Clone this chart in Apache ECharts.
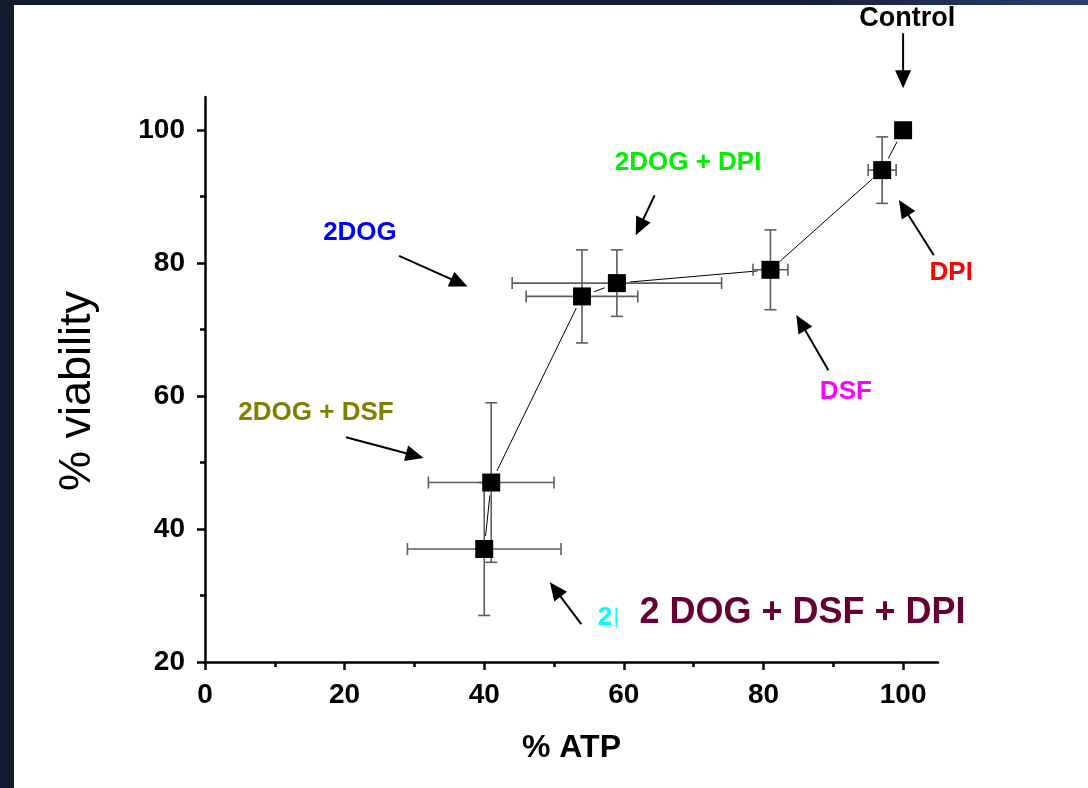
<!DOCTYPE html>
<html>
<head>
<meta charset="utf-8">
<script src="https://cdn.jsdelivr.net/npm/echarts@6/dist/echarts.min.js"></script>
<style>
  html, body { margin: 0; padding: 0; background: #ffffff; }
  #chart { width: 1088px; height: 788px; }
</style>
</head>
<body>
<div id="chart"></div>
<script>
// Treatments, ordered by % ATP
const treatments = ['2DOG + DSF + DPI', '2DOG + DSF', '2DOG', '2DOG + DPI', 'DSF', 'DPI', 'Control'];
const atp = [40, 41, 54, 59, 81, 97, 100];
const viability = [37, 47, 75, 77, 79, 94, 100];
const atpErr = [11, 9, 8, 15, 2.5, 2, 0];
const viabilityErr = [10, 12, 7, 5, 6, 5, 0];

// Axis tick values
const xMajorTicks = [0, 20, 40, 60, 80, 100];
const xMinorTicks = [10, 30, 50, 70, 90];
const yMajorTicks = [20, 40, 60, 80, 100];
const yMinorTicks = [30, 50, 70, 90];

// Callout notes, anchored in data units: text centre, arrow tail, arrow tip
const notes = [
  { text: 'Control', color: '#000000', size: 27, at: [100.6, 116.8], from: [100, 114.6], to: [100, 106.3] },
  { text: 'DPI', color: '#ff0000', size: 26, at: [106.9, 78.6], from: [104.4, 81.2], to: [99.4, 89.5] },
  { text: 'DSF', color: '#ff00ff', size: 26, at: [91.8, 60.7], from: [89.3, 63.9], to: [84.7, 72.2] },
  { text: '2DOG + DPI', color: '#00ee00', size: 26, at: [69.2, 95.1], from: [64.4, 90.2], to: [61.7, 84.2] },
  { text: '2DOG', color: '#0000ff', size: 26, at: [22.2, 84.6], from: [27.8, 81.1], to: [37.6, 76.5] },
  { text: '2DOG + DSF', color: '#808000', size: 26, at: [15.9, 57.5], from: [20.2, 53.8], to: [31.3, 50.7] },
  { text: '2', color: '#00ffff', size: 26, at: [57.3, 26.7], from: [53.9, 25.7], to: [49.4, 32.0] },
  { text: '2 DOG + DSF + DPI', color: '#660033', size: 36, at: [85.6, 27.3] }
];

const FONT = '"Liberation Sans", Arial, Helvetica, sans-serif';
const chart = echarts.init(document.getElementById('chart'), null, { renderer: 'canvas' });

const points = atp.map((x, i) => [x, viability[i], atpErr[i], viabilityErr[i]]);
const segments = atp.slice(0, -1).map((x, i) => [x, viability[i], atp[i + 1], viability[i + 1]]);

const axisLineStyle = { color: '#000', width: 2.5 };
const labelStyle = { color: '#000', fontSize: 28, fontWeight: 'bold', fontFamily: FONT };

chart.setOption({
  animation: false,
  backgroundColor: '#ffffff',
  grid: { left: 205, right: 150, top: 97, bottom: 126, containLabel: false },
  xAxis: [
    {
      type: 'value', min: 0, max: 105, interval: 20,
      splitLine: { show: false },
      axisLine: { onZero: false, lineStyle: axisLineStyle },
      axisTick: { customValues: xMajorTicks, length: 8, lineStyle: { width: 2.5, color: '#000' } },
      axisLabel: Object.assign({ customValues: xMajorTicks, margin: 19 }, labelStyle),
      name: '% ATP', nameLocation: 'middle', nameGap: 70,
      nameTextStyle: { color: '#000', fontSize: 32, fontWeight: 'bold', fontFamily: FONT }
    },
    {
      type: 'value', min: 0, max: 105, interval: 20, position: 'bottom',
      splitLine: { show: false },
      axisLine: { show: false },
      axisTick: { customValues: xMinorTicks, length: 5, lineStyle: { width: 2.5, color: '#000' } },
      axisLabel: { show: false }
    }
  ],
  yAxis: [
    {
      type: 'value', min: 20, max: 105, interval: 20,
      splitLine: { show: false },
      axisLine: { onZero: false, lineStyle: axisLineStyle },
      axisTick: { customValues: yMajorTicks, length: 8, lineStyle: { width: 2.5, color: '#000' } },
      axisLabel: Object.assign({ customValues: yMajorTicks, margin: 20 }, labelStyle)
    },
    {
      type: 'value', min: 20, max: 105, interval: 20, position: 'left',
      splitLine: { show: false },
      axisLine: { show: false },
      axisTick: { customValues: yMinorTicks, length: 5, lineStyle: { width: 2.5, color: '#000' } },
      axisLabel: { show: false }
    }
  ],
  series: [
    {
      // connecting line, broken short of each marker
      type: 'custom', xAxisIndex: 0, yAxisIndex: 0, z: 2,
      data: segments,
      renderItem: function (params, api) {
        const a = api.coord([api.value(0), api.value(1)]);
        const b = api.coord([api.value(2), api.value(3)]);
        const dx = b[0] - a[0], dy = b[1] - a[1];
        const len = Math.sqrt(dx * dx + dy * dy);
        const gap = 13;
        if (len <= gap * 2) return null;
        const ux = dx / len, uy = dy / len;
        return {
          type: 'line',
          shape: { x1: a[0] + ux * gap, y1: a[1] + uy * gap, x2: b[0] - ux * gap, y2: b[1] - uy * gap },
          style: { stroke: '#000', lineWidth: 1 }
        };
      }
    },
    {
      // error bars in both directions
      type: 'custom', xAxisIndex: 0, yAxisIndex: 0, z: 3,
      data: points,
      renderItem: function (params, api) {
        const x = api.value(0), y = api.value(1), ex = api.value(2), ey = api.value(3);
        const children = [];
        const cap = 6;
        const st = { stroke: '#5e5e5e', lineWidth: 1.6 };
        if (ex > 0) {
          const l = api.coord([x - ex, y]), r = api.coord([x + ex, y]);
          children.push({ type: 'line', shape: { x1: l[0], y1: l[1], x2: r[0], y2: r[1] }, style: st });
          children.push({ type: 'line', shape: { x1: l[0], y1: l[1] - cap, x2: l[0], y2: l[1] + cap }, style: st });
          children.push({ type: 'line', shape: { x1: r[0], y1: r[1] - cap, x2: r[0], y2: r[1] + cap }, style: st });
        }
        if (ey > 0) {
          const t = api.coord([x, y + ey]), b = api.coord([x, y - ey]);
          children.push({ type: 'line', shape: { x1: t[0], y1: t[1], x2: b[0], y2: b[1] }, style: st });
          children.push({ type: 'line', shape: { x1: t[0] - cap, y1: t[1], x2: t[0] + cap, y2: t[1] }, style: st });
          children.push({ type: 'line', shape: { x1: b[0] - cap, y1: b[1], x2: b[0] + cap, y2: b[1] }, style: st });
        }
        return { type: 'group', children: children };
      }
    },
    {
      type: 'scatter', xAxisIndex: 0, yAxisIndex: 0, z: 4,
      symbol: 'rect', symbolSize: 18,
      itemStyle: { color: '#000', opacity: 1 },
      emphasis: { disabled: true },
      data: atp.map((x, i) => [x, viability[i]])
    }
  ]
});

// Frame, axis title, callout texts and arrows
function px(p) { return chart.convertToPixel({ xAxisIndex: 0, yAxisIndex: 0 }, p); }

const graphics = [
  { type: 'rect', silent: true, z: 100, shape: { x: 0, y: 0, width: 1088, height: 5 },
    style: { fill: new echarts.graphic.LinearGradient(0, 0, 1, 0, [
      { offset: 0, color: '#121a2b' }, { offset: 0.72, color: '#141d31' }, { offset: 1, color: '#2b3f70' }]) } },
  { type: 'rect', silent: true, z: 100, shape: { x: 0, y: 0, width: 14, height: 788 }, style: { fill: '#121a2b' } },
  { type: 'text', z: 50, x: 78, y: 391, rotation: Math.PI / 2,
    style: { text: '% viability', fill: '#000', font: 'normal 45px ' + FONT, align: 'center', verticalAlign: 'middle' } }
];

notes.forEach(function (n) {
  const c = px(n.at);
  graphics.push({
    type: 'text', z: 50, x: c[0], y: c[1],
    style: { text: n.text, fill: n.color, font: 'bold ' + n.size + 'px ' + FONT, align: 'center', verticalAlign: 'middle' }
  });
  if (n.from) {
    const a = px(n.from), b = px(n.to);
    const dx = b[0] - a[0], dy = b[1] - a[1];
    const len = Math.sqrt(dx * dx + dy * dy);
    const ux = dx / len, uy = dy / len;
    const headL = 18, headW = 8;
    const bx = b[0] - ux * headL, by = b[1] - uy * headL;
    graphics.push({
      type: 'line', z: 50,
      shape: { x1: a[0], y1: a[1], x2: bx + ux * 2, y2: by + uy * 2 },
      style: { stroke: '#000', lineWidth: 2 }
    });
    graphics.push({
      type: 'polygon', z: 50,
      shape: { points: [[b[0], b[1]], [bx - uy * headW, by + ux * headW], [bx + uy * headW, by - ux * headW]] },
      style: { fill: '#000' }
    });
  }
});

// thin trailing stroke after the cyan "2"
const cyanAnchor = px([58.8, 26.7]);
graphics.push({ type: 'rect', z: 50, shape: { x: cyanAnchor[0], y: cyanAnchor[1] - 10, width: 1.5, height: 20 }, style: { fill: '#00ffff' } });

chart.setOption({ graphic: graphics });
</script>
</body>
</html>
